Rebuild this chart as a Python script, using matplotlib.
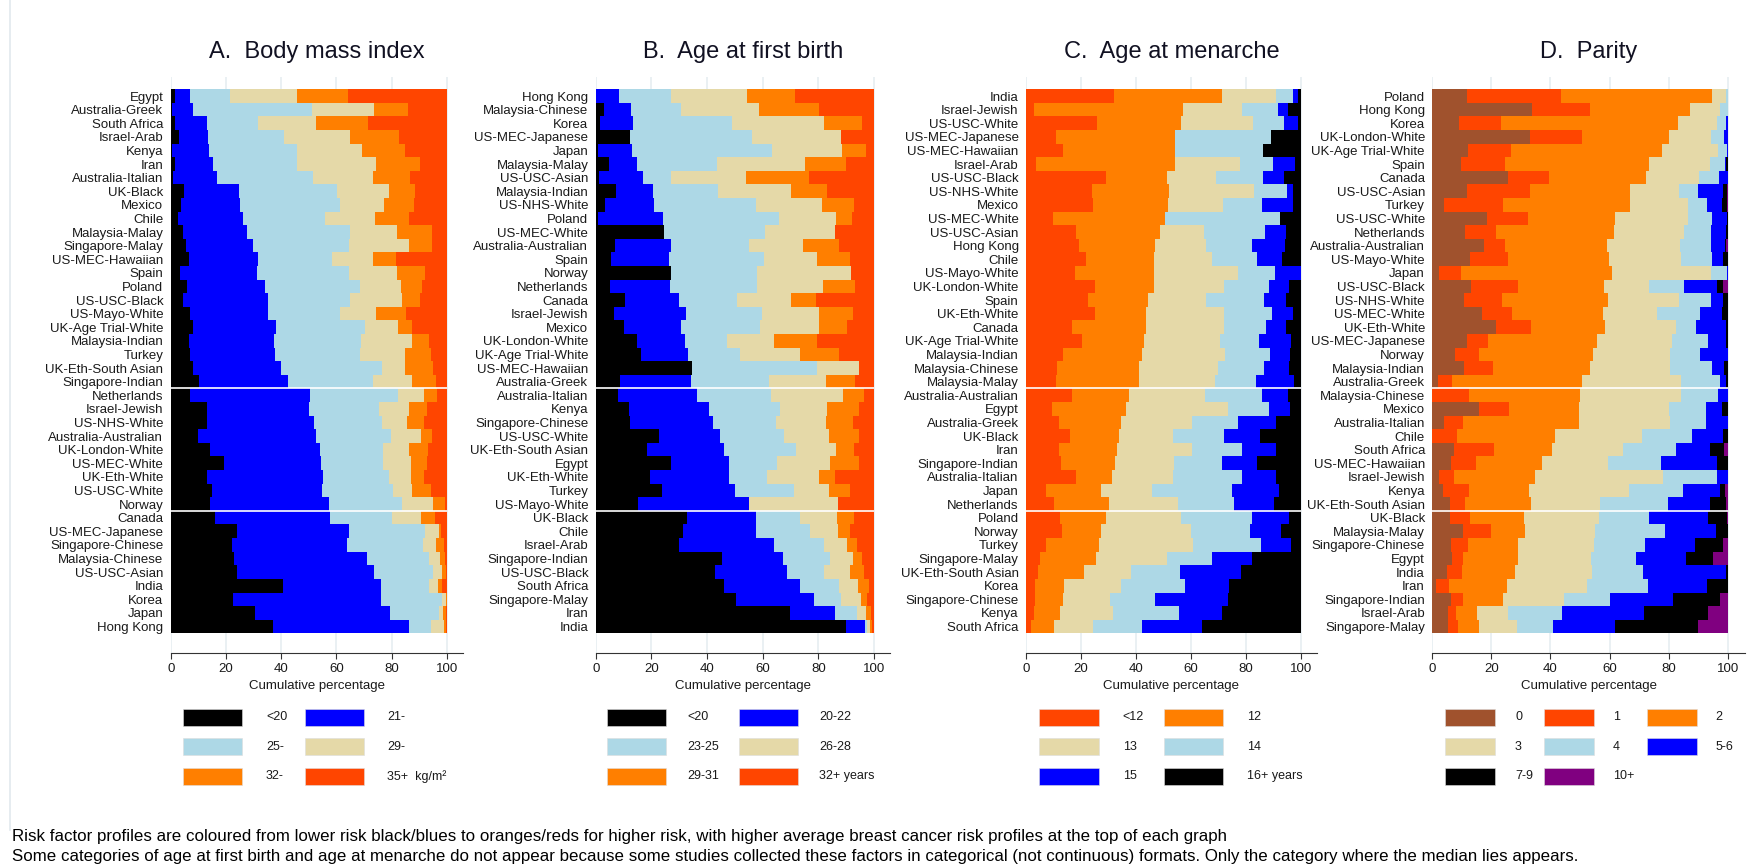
import numpy as np
import matplotlib
matplotlib.use("Agg")
import matplotlib.pyplot as plt
from matplotlib.patches import Rectangle
from matplotlib import font_manager

plt.rcParams['font.family'] = ['Liberation Sans', 'DejaVu Sans']

# ---------------- data (cumulative percentages) ----------------
# A. Body mass index : <20, 21-, 25-, 29-, 32- (35+ fills to 100)
bmi_countries = ["Egypt", "Australia-Greek", "South Africa", "Israel-Arab", "Kenya", "Iran",
                 "Australia-Italian", "UK-Black", "Mexico", "Chile", "Malaysia-Malay",
                 "Singapore-Malay", "US-MEC-Hawaiian", "Spain", "Poland", "US-USC-Black",
                 "US-Mayo-White", "UK-Age Trial-White", "Malaysia-Indian", "Turkey",
                 "UK-Eth-South Asian", "Singapore-Indian", "Netherlands", "Israel-Jewish",
                 "US-NHS-White", "Australia-Australian", "UK-London-White", "US-MEC-White",
                 "UK-Eth-White", "US-USC-White", "Norway", "Canada", "US-MEC-Japanese",
                 "Singapore-Chinese", "Malaysia-Chinese", "US-USC-Asian", "India", "Korea",
                 "Japan", "Hong Kong"]
bmi_cum = [
    [1.6, 7.1, 21.5, 45.7, 64.2], [0.3, 8.1, 51.1, 73.7, 86.0], [1.6, 13.3, 31.7, 52.5, 71.4],
    [3.0, 13.5, 40.9, 64.9, 82.6], [0.6, 14.0, 45.7, 69.2, 84.7], [1.6, 15.3, 45.7, 74.2, 90.1],
    [0.8, 16.6, 51.6, 73.1, 86.7], [4.7, 24.6, 60.2, 78.9, 88.4], [3.7, 25.0, 61.4, 77.2, 88.1],
    [2.7, 26.3, 56.0, 74.1, 86.4], [4.5, 27.6, 64.9, 82.0, 94.6], [5.4, 29.8, 64.5, 86.4, 94.6],
    [6.5, 31.7, 58.4, 73.1, 81.5], [3.4, 31.4, 64.5, 82.0, 92.2], [5.8, 34.1, 68.6, 83.4, 91.0],
    [4.5, 35.1, 64.9, 83.7, 90.1], [7.1, 35.1, 61.4, 74.4, 85.0], [8.1, 38.2, 70.3, 82.4, 87.5],
    [6.5, 37.3, 69.0, 87.5, 93.5], [7.1, 37.6, 68.6, 84.7, 94.2], [8.1, 39.9, 76.5, 84.7, 94.9],
    [10.3, 42.3, 73.1, 87.5, 95.9], [7.1, 50.5, 82.3, 91.8, 96.3], [13.0, 49.9, 75.5, 86.4, 92.9],
    [13.0, 51.9, 76.5, 85.6, 91.8], [9.9, 52.6, 79.9, 90.5, 94.6], [14.4, 53.9, 76.8, 86.4, 93.2],
    [19.4, 54.3, 76.8, 87.1, 92.9], [13.0, 55.2, 78.9, 87.1, 91.8], [15.0, 54.6, 80.6, 87.5, 94.2],
    [14.4, 57.3, 83.6, 94.9, 99.3], [16.0, 57.7, 80.2, 90.5, 95.5], [24.1, 64.5, 92.2, 97.2, 97.8],
    [22.2, 63.8, 91.4, 95.9, 98.9], [22.9, 71.0, 93.5, 97.6, 99.3], [23.9, 73.5, 94.9, 98.3, 99.6],
    [40.7, 76.1, 93.5, 96.6, 98.3], [22.6, 76.1, 98.3, 99.6, 100], [30.4, 79.3, 97.0, 98.7, 99.6],
    [37.2, 86.4, 94.2, 98.9, 99.6],
]
bmi_labels = ["<20", "21-", "25-", "29-", "32-", "35+  kg/m\u00b2"]

# B. Age at first birth : <20, 20-22, 23-25, 26-28, 29-31 (32+ fills to 100)
afb_countries = ["Hong Kong", "Malaysia-Chinese", "Korea", "US-MEC-Japanese", "Japan",
                 "Malaysia-Malay", "US-USC-Asian", "Malaysia-Indian", "US-NHS-White", "Poland",
                 "US-MEC-White", "Australia-Australian", "Spain", "Norway", "Netherlands",
                 "Canada", "Israel-Jewish", "Mexico", "UK-London-White", "UK-Age Trial-White",
                 "US-MEC-Hawaiian", "Australia-Greek", "Australia-Italian", "Kenya",
                 "Singapore-Chinese", "US-USC-White", "UK-Eth-South Asian", "Egypt",
                 "UK-Eth-White", "Turkey", "US-Mayo-White", "UK-Black", "Chile", "Israel-Arab",
                 "Singapore-Indian", "US-USC-Black", "South Africa", "Singapore-Malay", "Iran",
                 "India"]
afb_cum = [
    [0.0, 8.4, 27.1, 54.5, 71.5], [2.9, 12.8, 30.8, 58.7, 80.4], [1.6, 13.4, 49.1, 82.0, 95.7],
    [12.5, 12.5, 56.2, 88.1, 88.1], [1.0, 13.2, 63.4, 88.4, 97.2], [4.8, 14.9, 43.5, 75.3, 89.8],
    [1.3, 16.9, 27.1, 53.9, 76.6], [7.3, 20.6, 44.0, 70.2, 83.0], [3.2, 21.0, 57.6, 81.3, 92.8],
    [1.0, 24.1, 65.7, 86.3, 92.1], [24.7, 24.7, 61.0, 86.0, 86.0], [7.1, 27.1, 55.0, 74.6, 87.4],
    [5.5, 26.5, 60.4, 79.6, 91.5], [27.1, 27.1, 58.1, 91.9, 91.9], [5.1, 26.7, 58.1, 81.7, 93.2],
    [10.5, 29.8, 50.8, 70.2, 79.3], [6.7, 32.5, 59.6, 80.4, 92.5], [10.2, 30.8, 59.0, 80.4, 90.2],
    [14.9, 32.2, 47.1, 64.1, 79.4], [16.3, 33.2, 51.9, 73.3, 87.4], [34.5, 34.5, 79.6, 94.6, 94.6],
    [8.7, 34.3, 62.4, 82.8, 93.3], [8.0, 36.5, 63.0, 88.9, 96.3], [12.1, 40.6, 66.1, 83.1, 94.6],
    [12.5, 42.3, 64.8, 82.8, 92.6], [22.8, 44.7, 67.8, 83.7, 94.6], [18.3, 46.0, 71.9, 86.5, 92.9],
    [27.1, 48.0, 65.1, 84.1, 94.6], [19.6, 48.0, 61.7, 80.4, 86.1], [23.7, 50.1, 71.3, 83.7, 91.5],
    [15.2, 55.0, 55.0, 87.2, 87.2], [32.8, 57.6, 73.3, 86.8, 92.9], [31.5, 57.6, 76.9, 87.2, 91.5],
    [29.8, 64.1, 82.0, 90.2, 93.9], [45.4, 67.4, 84.1, 92.6, 95.7], [43.0, 68.9, 82.0, 91.5, 96.3],
    [46.0, 73.3, 87.4, 94.3, 98.3], [50.4, 78.3, 88.1, 95.3, 97.4], [69.8, 86.1, 93.9, 97.0, 99.0],
    [89.8, 96.6, 97.4, 98.6, 99.4],
]
afb_labels = ["<20", "20-22", "23-25", "26-28", "29-31", "32+ years"]

# C. Age at menarche : <12, 12, 13, 14, 15 (16+ fills to 100)
men_countries = ["India", "Israel-Jewish", "US-USC-White", "US-MEC-Japanese", "US-MEC-Hawaiian",
                 "Israel-Arab", "US-USC-Black", "US-NHS-White", "Mexico", "US-MEC-White",
                 "US-USC-Asian", "Hong Kong", "Chile", "US-Mayo-White", "UK-London-White",
                 "Spain", "UK-Eth-White", "Canada", "UK-Age Trial-White", "Malaysia-Indian",
                 "Malaysia-Chinese", "Malaysia-Malay", "Australia-Australian", "Egypt",
                 "Australia-Greek", "UK-Black", "Iran", "Singapore-Indian", "Australia-Italian",
                 "Japan", "Netherlands", "Poland", "Norway", "Turkey", "Singapore-Malay",
                 "UK-Eth-South Asian", "Korea", "Singapore-Chinese", "Kenya", "South Africa"]
men_cum = [
    [32.0, 71.2, 91.0, 97.0, 98.8], [2.8, 57.1, 78.7, 91.8, 95.2], [25.8, 56.4, 82.5, 93.8, 98.8],
    [11.0, 54.1, 54.1, 89.0, 89.0], [13.5, 54.3, 54.3, 86.3, 86.3], [3.5, 54.3, 77.9, 89.7, 97.9],
    [29.0, 51.3, 69.1, 86.3, 93.8], [24.1, 51.9, 82.8, 94.9, 97.0], [24.4, 51.5, 71.5, 85.9, 97.2],
    [9.7, 50.5, 50.5, 92.5, 92.5], [18.2, 48.8, 64.6, 87.0, 94.4], [19.3, 47.0, 65.3, 82.2, 94.2],
    [21.7, 46.4, 67.6, 83.9, 93.1], [17.9, 46.4, 77.0, 90.4, 100], [25.1, 46.4, 72.1, 88.4, 95.8],
    [22.7, 44.4, 65.3, 86.7, 94.4], [25.1, 43.6, 72.1, 89.3, 97.0], [16.8, 43.6, 72.1, 87.3, 94.4],
    [20.2, 42.9, 70.4, 84.8, 96.5], [13.5, 42.3, 72.5, 88.6, 96.1], [11.4, 41.0, 69.8, 86.5, 95.8],
    [11.0, 41.0, 68.7, 83.5, 97.5], [16.6, 37.5, 65.0, 85.9, 95.2], [9.3, 36.4, 73.6, 88.2, 96.1],
    [12.1, 34.4, 60.5, 77.0, 91.0], [15.9, 33.7, 53.6, 71.9, 85.2], [12.1, 33.0, 60.5, 78.7, 91.0],
    [12.7, 32.2, 53.9, 71.2, 83.9], [18.3, 31.3, 53.6, 78.7, 91.0], [7.3, 27.2, 45.7, 74.9, 92.1],
    [10.3, 30.3, 55.3, 75.6, 90.3], [12.4, 29.2, 56.4, 82.1, 95.5], [13.1, 27.2, 60.1, 81.5, 92.7],
    [7.3, 26.5, 60.8, 85.6, 96.2], [5.2, 25.5, 51.3, 67.5, 82.1], [4.5, 21.0, 38.2, 56.0, 78.1],
    [3.2, 13.8, 34.7, 57.8, 73.8], [3.2, 13.5, 30.5, 46.8, 73.5], [2.8, 12.4, 31.6, 55.6, 71.2],
    [1.7, 10.3, 24.4, 42.3, 63.9],
]
men_labels = ["<12", "12", "13", "14", "15", "16+ years"]

# D. Parity : 0, 1, 2, 3, 4, 5-6, 7-9 (10+ fills to 100)
par_countries = ["Poland", "Hong Kong", "Korea", "UK-London-White", "UK-Age Trial-White", "Spain",
                 "Canada", "US-USC-Asian", "Turkey", "US-USC-White", "Netherlands",
                 "Australia-Australian", "US-Mayo-White", "Japan", "US-USC-Black",
                 "US-NHS-White", "US-MEC-White", "UK-Eth-White", "US-MEC-Japanese", "Norway",
                 "Malaysia-Indian", "Australia-Greek", "Malaysia-Chinese", "Mexico",
                 "Australia-Italian", "Chile", "South Africa", "US-MEC-Hawaiian",
                 "Israel-Jewish", "Kenya", "UK-Eth-South Asian", "UK-Black", "Malaysia-Malay",
                 "Singapore-Chinese", "Egypt", "India", "Iran", "Singapore-Indian",
                 "Israel-Arab", "Singapore-Malay"]
par_cum = [
    [11.7, 43.6, 94.7, 99.4, 100, 100, 100], [33.9, 53.4, 87.2, 97.5, 100, 100, 100],
    [9.0, 23.3, 83.1, 96.3, 99.4, 100, 100], [33.0, 50.8, 80.2, 94.4, 98.8, 100, 100],
    [12.1, 26.5, 77.7, 96.8, 99.7, 100, 100], [9.6, 24.6, 73.3, 94.0, 99.1, 99.5, 100],
    [25.6, 39.5, 72.3, 90.2, 97.2, 100, 100], [11.7, 33.2, 66.8, 83.5, 89.8, 98.4, 99.7],
    [4.1, 23.9, 66.8, 86.7, 93.0, 98.1, 99.6], [18.5, 32.3, 62.0, 86.7, 94.6, 99.7, 100],
    [11.2, 21.7, 61.6, 85.1, 94.4, 99.4, 100], [17.5, 24.6, 59.1, 83.7, 94.4, 99.1, 99.5],
    [12.8, 25.6, 59.7, 84.3, 94.7, 98.4, 100], [2.3, 9.6, 60.9, 94.4, 99.7, 100, 100],
    [13.1, 29.0, 58.1, 73.5, 85.3, 96.3, 98.4], [10.8, 23.6, 59.5, 83.5, 94.4, 98.4, 100],
    [16.9, 27.1, 57.9, 76.1, 90.5, 98.1, 100], [21.7, 33.5, 58.5, 82.5, 89.3, 99.4, 100],
    [11.7, 18.8, 55.6, 81.2, 93.3, 99.4, 100], [7.7, 15.9, 54.4, 80.6, 90.5, 100, 100],
    [10.8, 20.4, 53.4, 80.6, 94.7, 98.8, 100], [1.8, 6.7, 50.6, 84.1, 97.5, 99.4, 100],
    [0.0, 12.4, 50.1, 84.1, 96.8, 100, 100], [15.7, 26.0, 49.5, 80.2, 92.8, 98.1, 100],
    [4.1, 10.5, 49.8, 80.5, 92.8, 100, 100], [0.0, 8.2, 41.5, 70.9, 87.9, 98.5, 100],
    [7.3, 20.8, 40.6, 64.6, 82.5, 94.0, 98.8], [6.3, 14.7, 37.1, 59.4, 77.3, 96.3, 100],
    [2.3, 7.3, 34.9, 78.0, 96.3, 100, 100], [3.5, 12.4, 32.6, 66.7, 85.0, 97.5, 99.1],
    [6.0, 11.2, 33.3, 56.8, 79.9, 94.0, 99.4], [6.0, 12.8, 31.0, 56.4, 73.5, 93.3, 99.7],
    [10.5, 19.8, 31.4, 55.2, 78.9, 95.9, 100], [6.3, 12.1, 29.1, 54.9, 71.9, 88.9, 98.4],
    [6.7, 10.5, 29.1, 53.6, 69.0, 85.9, 94.9], [5.1, 10.2, 27.9, 54.1, 71.2, 99.4, 100],
    [1.2, 5.8, 25.3, 52.4, 73.1, 93.0, 100], [6.3, 10.5, 24.0, 44.7, 60.2, 81.5, 97.5],
    [5.4, 8.0, 15.0, 25.6, 43.8, 71.6, 93.3], [5.4, 8.6, 15.7, 28.8, 41.0, 62.0, 89.8],
]
par_labels = ["0", "1", "2", "3", "4", "5-6", "7-9", "10+"]

titles = ["A.  Body mass index", "B.  Age at first birth", "C.  Age at menarche", "D.  Parity"]

# colours
BLACK, BLUE, LBLUE, WHEAT = "#000000", "#0000ff", "#add8e6", "#e5d9a8"
ORANGE, ORED, SIENNA, PURPLE = "#ff7f00", "#ff4500", "#a0522d", "#800080"
bmi_colors = [BLACK, BLUE, LBLUE, WHEAT, ORANGE, ORED]
men_colors = [ORED, ORANGE, WHEAT, LBLUE, BLUE, BLACK]
par_colors = [SIENNA, ORED, ORANGE, WHEAT, LBLUE, BLUE, BLACK, PURPLE]

panels = [
    (bmi_countries, bmi_cum, bmi_colors, bmi_labels),
    (afb_countries, afb_cum, bmi_colors, afb_labels),
    (men_countries, men_cum, men_colors, men_labels),
    (par_countries, par_cum, par_colors, par_labels),
]

# ---------------- layout (pixels) ----------------
W, H = 1755, 864
fig = plt.figure(figsize=(W / 100, H / 100), dpi=100)
fig.patch.set_facecolor("white")

def fx(px):
    return px / W

def fy(py):
    return 1 - py / H

zero_px = [170.7, 595.7, 1026.0, 1432.3]
hund_px = [447.0, 874.0, 1301.0, 1727.7]
XMAX = 105.8
top_px, axis_px = 77.0, 653.3
YTOP, YBOT = -1.4, 40.97

# legend layout: box lefts, label lefts, box width
leg_box = [[183.3, 305.3], [607.0, 738.8], [1039.0, 1163.5], [1445.3, 1544.0, 1647.3]]
leg_txt = [[266.0, 387.3], [687.0, 819.0], [1122.7, 1246.6], [1515.0, 1612.7, 1715.4]]
leg_bw = [59, 59, 59.7, 49.5]
leg_rows = [717.5, 746.8, 776.2]
BOX_H = 17

TXT = "#1a1a1a"

# faint left border of the graph region
fig.add_artist(plt.Line2D([fx(10), fx(10)], [fy(0), fy(830)], color="#e1e9ee", lw=1.2))

for p, (countries, cum, colors, labels) in enumerate(panels):
    scale = (hund_px[p] - zero_px[p]) / 100.0
    w_px = scale * XMAX
    ax = fig.add_axes([fx(zero_px[p]), fy(axis_px), w_px / W, (axis_px - top_px) / H])

    cum = np.array(cum, dtype=float)
    full = np.hstack([np.zeros((len(cum), 1)), cum, np.full((len(cum), 1), 100.0)])
    widths = np.diff(full, axis=1)
    y = np.arange(len(countries))
    for k, c in enumerate(colors):
        ax.barh(y, widths[:, k], left=full[:, k], height=1.0, color=c,
                linewidth=0, antialiased=False, zorder=2)

    ax.hlines([21.5, 30.5], 0, 100, color="white", lw=1.2, zorder=3)

    ax.set_xlim(0, XMAX)
    ax.set_ylim(YBOT, YTOP)
    ax.set_xticks([0, 20, 40, 60, 80, 100])
    ax.grid(axis="x", color="#e6eef1", lw=1.2, zorder=0)
    ax.set_axisbelow(True)
    ax.set_yticks(y)
    ax.set_yticklabels(countries, fontsize=9.5, color=TXT)
    ax.tick_params(axis="y", length=0, pad=5.3)
    ax.tick_params(axis="x", length=4.3, width=0.8, color="#333333", pad=2.5,
                   labelsize=9.5, labelcolor=TXT)
    for s in ["top", "right", "left"]:
        ax.spines[s].set_visible(False)
    ax.spines["bottom"].set_color("#333333")
    ax.spines["bottom"].set_linewidth(0.8)

    cx = zero_px[p] + w_px / 2
    fig.text(fx(cx), fy(52), titles[p], ha="center", va="center", fontsize=17, color="#111122")
    fig.text(fx(cx), fy(686), "Cumulative percentage", ha="center", va="center",
             fontsize=9.5, color=TXT)

    # legend
    ncol = len(leg_box[p])
    for i, (lab, c) in enumerate(zip(labels, colors)):
        r, col = divmod(i, ncol)
        yc = leg_rows[r]
        fig.add_artist(Rectangle((fx(leg_box[p][col]), fy(yc + BOX_H / 2)),
                                 leg_bw[p] / W, BOX_H / H, transform=fig.transFigure,
                                 facecolor=c, edgecolor="#dddddd", lw=0.4))
        fig.text(fx(leg_txt[p][col]), fy(yc), lab, ha="left", va="center",
                 fontsize=9, color=TXT)

# footnotes: condensed font if available, sized so the first line spans ~1214 px
try:
    font_manager.findfont("Liberation Sans Narrow", fallback_to_default=False)
    note_family = ["Liberation Sans Narrow", "DejaVu Sans"]
except Exception:
    note_family = ["Liberation Sans", "DejaVu Sans"]

notes = [
    "Risk factor profiles are coloured from lower risk black/blues to oranges/reds for higher risk, "
    "with higher average breast cancer risk profiles at the top of each graph",
    "Some categories of age at first birth and age at menarche do not appear because some studies "
    "collected these factors in categorical (not continuous) formats. Only the category where the "
    "median lies appears.",
]
note_texts = []
for note, yy in zip(notes, [837, 856]):
    note_texts.append(fig.text(fx(12), fy(yy), note, ha="left", va="center", fontsize=10.5,
                               color="#000000", family=note_family))
renderer = fig.canvas.get_renderer()
w0 = note_texts[0].get_window_extent(renderer).width
new_size = 10.5 * 1214.0 / w0
for t in note_texts:
    t.set_fontsize(new_size)

fig.savefig("out.png", dpi=100, facecolor="white")
